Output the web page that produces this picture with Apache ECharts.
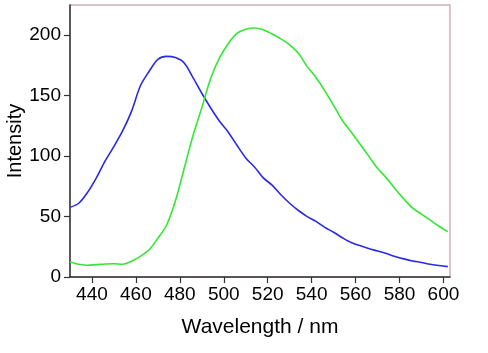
<!DOCTYPE html>
<html>
<head>
<meta charset="utf-8">
<script src="https://cdn.jsdelivr.net/npm/echarts@6/dist/echarts.min.js"></script>
<style>
  html, body { margin: 0; padding: 0; background: #fff; }
  #chart { width: 488px; height: 353px; }
</style>
</head>
<body>
<div id="chart"></div>
<script>
// wavelength samples (nm)
const wavelengths = [430, 434, 438, 442, 446, 450, 454, 458, 462, 466, 470, 474, 478, 482, 486, 490,
  494, 498, 502, 506, 510, 514, 518, 522, 526, 530, 534, 538, 542, 546, 550, 554, 558, 562, 566,
  570, 574, 578, 582, 586, 590, 594, 598, 602];

const blueIntensity = [57.6, 61, 70, 82, 96, 108, 121, 137, 158, 170, 180, 182.5, 181.5, 177, 165, 152,
  140, 129, 120, 109, 98.5, 91, 82, 76, 68, 61, 55, 50, 46, 41, 37, 32.5, 28.5, 26, 23.5,
  21.5, 19.4, 17, 15, 13.3, 12, 10.5, 9.5, 8.6];

const greenIntensity = [12.4, 10.5, 9.7, 10.2, 10.8, 11, 10.6, 13, 17, 22.5, 32, 43, 63, 90, 117, 140,
  164, 181, 193, 201.5, 205, 206, 204.5, 201, 197, 192, 185, 174, 165, 154, 142, 129.5, 120, 110, 100,
  90, 82, 73, 64.5, 57, 52, 47, 42, 37.5];

const xTicks = [440, 460, 480, 500, 520, 540, 560, 580, 600];
const yTicks = [0, 50, 100, 150, 200];

const font = 'Liberation Sans, Arial, sans-serif';
const chart = echarts.init(document.getElementById('chart'));

const pairs = vals => wavelengths.map((w, i) => [w, vals[i]]);

chart.setOption({
  animation: false,
  grid: {
    left: 70, right: 38, top: 5, bottom: 76,
    outerBoundsMode: 'none', containLabel: false,
    show: true, borderColor: '#d4aebb', borderWidth: 1.5
  },
  xAxis: {
    type: 'value', min: 430, max: 603,
    name: 'Wavelength / nm', nameLocation: 'middle', nameGap: 40, nameMoveOverlap: false,
    nameTextStyle: { fontFamily: font, fontSize: 21, color: '#000' },
    axisLine: { lineStyle: { color: '#333', width: 1.5 } },
    axisTick: { customValues: xTicks, length: 6, lineStyle: { color: '#333', width: 1.2 } },
    axisLabel: { customValues: xTicks, margin: 8, fontFamily: font, fontSize: 19, color: '#000' },
    splitLine: { show: false }
  },
  yAxis: {
    type: 'value', min: 0, max: 225,
    name: 'Intensity', nameLocation: 'middle', nameGap: 45, nameMoveOverlap: false,
    nameTextStyle: { fontFamily: font, fontSize: 20, color: '#000' },
    axisLine: { show: true, lineStyle: { color: '#333', width: 1.5 } },
    axisTick: { show: true, customValues: yTicks, length: 6, lineStyle: { color: '#333', width: 1.2 } },
    axisLabel: { customValues: yTicks, margin: 9, fontFamily: font, fontSize: 19, color: '#000' },
    splitLine: { show: false }
  },
  series: [
    {
      type: 'line', data: pairs(blueIntensity), showSymbol: false, smooth: 0.3,
      lineStyle: { color: '#2a2ae6', width: 1.6 }
    },
    {
      type: 'line', data: pairs(greenIntensity), showSymbol: false, smooth: 0.3,
      lineStyle: { color: '#33e833', width: 1.6 }
    }
  ]
});
</script>
</body>
</html>
